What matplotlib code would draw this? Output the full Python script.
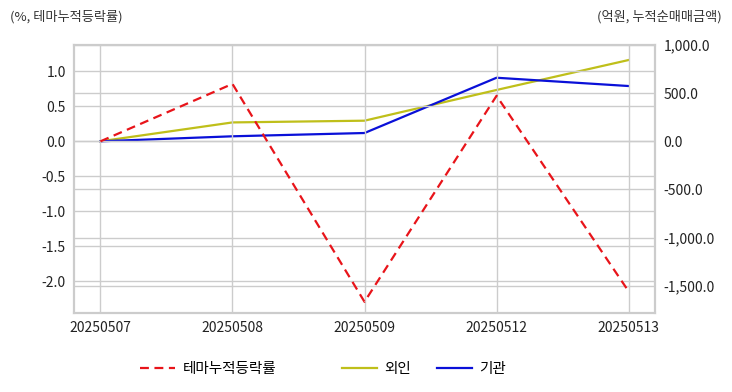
import matplotlib.pyplot as plt
from matplotlib.ticker import FuncFormatter, MultipleLocator

plt.rcParams['font.family'] = ['Noto Sans CJK KR', 'DejaVu Sans']
plt.rcParams['axes.unicode_minus'] = False

# data
dates = ['20250507', '20250508', '20250509', '20250512', '20250513']
theme_rate = [0.0, 0.82, -2.29, 0.65, -2.14]     # % cumulative
foreign = [0.0, 196, 214, 533, 844]               # 억원
institution = [0.0, 52, 86, 660, 574]             # 억원

labels = ['테마누적등락률', '외인', '기관']
legend_x = [140, 342, 437]   # where each legend entry starts (px)

grid_c = '#cccccc'

fig = plt.figure(figsize=(7.32, 3.92), dpi=100)
ax1 = fig.add_axes([74 / 732, 1 - 313 / 392, 581 / 732, 268 / 392])
ax2 = ax1.twinx()

xs = range(len(dates))
l1, = ax1.plot(xs, theme_rate, color='#e8141a', linestyle='--', linewidth=1.6, dashes=(4, 2.5))
l2, = ax2.plot(xs, foreign, color='#bfbf1a', linewidth=1.6)
l3, = ax2.plot(xs, institution, color='#0a10d8', linewidth=1.6)

ax1.set_xlim(-0.2, 4.2)
ax1.set_ylim(-2.45, 1.375)
ax2.set_ylim(-1783, 1000)
ax1.set_xticks(list(xs))
ax1.set_xticklabels(dates)
ax1.yaxis.set_major_locator(MultipleLocator(0.5))
ax1.yaxis.set_major_formatter(FuncFormatter(lambda v, p: f'{v:.1f}'))
ax2.yaxis.set_major_locator(MultipleLocator(500))
ax2.yaxis.set_major_formatter(FuncFormatter(lambda v, p: f'{v:,.1f}'))

for ax in (ax1, ax2):
    ax.grid(True, color=grid_c, linewidth=1)
    ax.tick_params(length=0, labelsize=10, colors='#222222', pad=6)
    for s in ax.spines.values():
        s.set_color(grid_c)
        s.set_linewidth(1.5)
ax2.grid(axis='x', visible=False)
# right axis drawn underneath, theme line on top
ax2.set_zorder(1)
ax1.set_zorder(2)
ax1.patch.set_visible(False)
ax2.patch.set_facecolor('white')

fig.text(10 / 732, 1 - 17 / 392, '(%, 테마누적등락률)', fontsize=9.5, color='#333333', va='center')
fig.text(722 / 732, 1 - 17 / 392, '(억원, 누적순매매금액)', fontsize=9.5, color='#333333', va='center', ha='right')

# one legend per entry so the uneven spacing matches
for h, lab, lx in zip([l1, l2, l3], labels, legend_x):
    fig.legend([h], [lab], loc='center left', bbox_to_anchor=(lx / 732, 1 - 369 / 392),
               frameon=False, fontsize=10.5, handlelength=2.4, handletextpad=0.5,
               borderpad=0, borderaxespad=0)

fig.savefig('out.png', dpi=100)
